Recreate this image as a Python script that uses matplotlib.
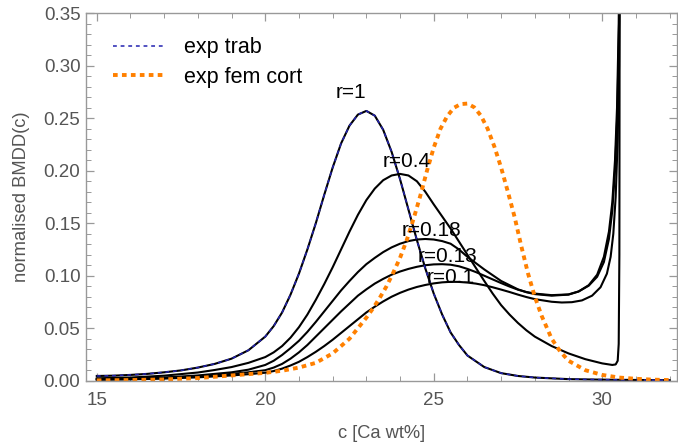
import matplotlib
matplotlib.use("Agg")
from matplotlib import pyplot as plt
from matplotlib.ticker import MultipleLocator

plt.rcParams["font.family"] = ["Liberation Sans", "DejaVu Sans"]

# experimental BMDDs
c_trab = [15, 15.5, 16, 16.5, 17, 17.5, 18, 18.5, 19, 19.5, 20, 20.25, 20.5, 20.75,
          21.0, 21.25, 21.5, 21.75, 22.0, 22.25, 22.5, 22.75, 23.0, 23.25, 23.5, 23.75,
          24.0, 24.25, 24.5, 24.75, 25.0, 25.25, 25.5, 25.75, 26.0, 26.5, 27.0, 27.5,
          28.0, 29.0, 30.0, 31.0, 32.0]
v_trab = [0.0045, 0.0048, 0.0055, 0.0065, 0.008, 0.0098, 0.0125, 0.016, 0.021, 0.029,
          0.042, 0.052, 0.065, 0.082, 0.102, 0.125, 0.150, 0.177, 0.203, 0.226, 0.243,
          0.2535, 0.257, 0.2525, 0.239, 0.218, 0.192, 0.163, 0.134, 0.107, 0.083, 0.063,
          0.046, 0.034, 0.024, 0.013, 0.0072, 0.0045, 0.003, 0.0015, 0.001, 0.0007,
          0.0005]

c_cort = [15, 16, 17, 18, 19, 20, 20.5, 21, 21.5, 22, 22.5, 23.0, 23.2, 23.4, 23.6,
          23.8, 24.0, 24.2, 24.4, 24.6, 24.8, 25.0, 25.2, 25.4, 25.6, 25.8, 26.0, 26.2,
          26.4, 26.6, 26.8, 27.0, 27.2, 27.4, 27.6, 27.8, 28.0, 28.2, 28.5, 28.75, 29.0,
          29.5, 30.0, 30.5, 31.0, 31.5, 32.0]
v_cort = [0.0003, 0.0006, 0.0012, 0.0025, 0.005, 0.0075, 0.0095, 0.0125, 0.017, 0.026,
          0.040, 0.060, 0.069, 0.079, 0.090, 0.103, 0.117, 0.134, 0.154, 0.176, 0.200,
          0.222, 0.240, 0.252, 0.260, 0.2635, 0.264, 0.2605, 0.2525, 0.240, 0.223, 0.203,
          0.180, 0.156, 0.128, 0.102, 0.080, 0.062, 0.040, 0.028, 0.019, 0.010, 0.0055,
          0.003, 0.0018, 0.001, 0.0006]

# model curves for different r (r=1 coincides with exp trab)
c_r04 = [15, 16, 17, 18, 18.5, 19, 19.5, 20, 20.25, 20.5, 20.75, 21, 21.25, 21.5, 21.75,
         22, 22.25, 22.5, 22.75, 23.0, 23.25, 23.5, 23.75, 24.0, 24.25, 24.5, 24.75,
         25.0, 25.25, 25.5, 25.75, 26.0, 26.25, 26.5, 26.75, 27.0, 27.25, 27.5, 27.75,
         28.0, 28.5, 29.0, 29.5, 30.0, 30.3, 30.4, 30.46, 30.49, 30.51, 30.52]
v_r04 = [0.0023, 0.003, 0.0048, 0.0078, 0.0102, 0.013, 0.017, 0.0225, 0.027, 0.033,
         0.041, 0.051, 0.063, 0.077, 0.092, 0.108, 0.125, 0.142, 0.158, 0.172, 0.183,
         0.191, 0.1955, 0.197, 0.1955, 0.190, 0.180, 0.168, 0.1565, 0.145, 0.1325, 0.120,
         0.1075, 0.095, 0.083, 0.072, 0.063, 0.055, 0.048, 0.042, 0.033, 0.026, 0.0205,
         0.0165, 0.015, 0.0155, 0.019, 0.035, 0.12, 0.45]

c_r018 = [15, 16, 17, 18, 18.5, 19, 19.5, 20, 20.25, 20.5, 20.75, 21.0, 21.25, 21.5,
          21.75, 22.0, 22.25, 22.5, 22.75, 23.0, 23.25, 23.5, 23.75, 24.0, 24.25, 24.5,
          24.75, 25.0, 25.25, 25.5, 25.75, 26.0, 26.25, 26.5, 26.75, 27.0, 27.25, 27.5,
          27.75, 28.0, 28.5, 29.0, 29.3, 29.6, 29.85, 30.05, 30.2, 30.3, 30.38, 30.44,
          30.49, 30.52]
v_r018 = [0.0015, 0.002, 0.003, 0.005, 0.0065, 0.008, 0.0105, 0.015, 0.019, 0.0245,
          0.031, 0.038, 0.0465, 0.056, 0.066, 0.076, 0.086, 0.095, 0.1035, 0.111, 0.117,
          0.1225, 0.127, 0.1305, 0.133, 0.1345, 0.135, 0.1345, 0.133, 0.1305, 0.125,
          0.118, 0.112, 0.106, 0.1005, 0.095, 0.091, 0.087, 0.0843, 0.0825, 0.081, 0.082,
          0.085, 0.091, 0.101, 0.118, 0.142, 0.17, 0.21, 0.26, 0.34, 0.45]

c_r013 = [15, 16, 17, 18, 19, 19.5, 20, 20.25, 20.5, 20.75, 21.0, 21.25, 21.5, 21.75,
          22.0, 22.25, 22.5, 22.75, 23.0, 23.25, 23.5, 23.75, 24.0, 24.25, 24.5, 24.75,
          25.0, 25.25, 25.5, 25.75, 26.0, 26.25, 26.5, 26.75, 27.0, 27.25, 27.5, 27.75,
          28.0, 28.5, 29.0, 29.3, 29.6, 29.85, 30.05, 30.2, 30.3, 30.38, 30.45, 30.5,
          30.53]
v_r013 = [0.001, 0.0015, 0.0025, 0.004, 0.0065, 0.008, 0.010, 0.0125, 0.016, 0.021,
          0.027, 0.034, 0.042, 0.050, 0.058, 0.066, 0.0735, 0.081, 0.087, 0.0925, 0.097,
          0.101, 0.104, 0.1065, 0.1085, 0.110, 0.1108, 0.111, 0.1105, 0.109, 0.1065,
          0.1035, 0.100, 0.0965, 0.093, 0.0897, 0.0867, 0.0845, 0.083, 0.0815, 0.0822,
          0.085, 0.0905, 0.099, 0.113, 0.135, 0.162, 0.20, 0.255, 0.34, 0.45]

c_r01 = [15, 16, 17, 18, 19, 19.5, 20, 20.25, 20.5, 20.75, 21.0, 21.25, 21.5, 21.75,
         22.0, 22.25, 22.5, 22.75, 23.0, 23.25, 23.5, 23.75, 24.0, 24.25, 24.5, 24.75,
         25.0, 25.25, 25.5, 25.75, 26.0, 26.25, 26.5, 26.75, 27.0, 27.25, 27.5, 27.75,
         28.0, 28.5, 28.8, 29.1, 29.4, 29.7, 29.95, 30.14, 30.25, 30.33, 30.4, 30.46,
         30.5, 30.53]
v_r01 = [0.001, 0.0013, 0.002, 0.0032, 0.005, 0.0062, 0.0076, 0.0092, 0.0115, 0.0145,
         0.018, 0.0225, 0.0275, 0.033, 0.039, 0.0455, 0.052, 0.0585, 0.065, 0.0705,
         0.0755, 0.080, 0.0837, 0.0868, 0.0893, 0.0912, 0.0927, 0.0937, 0.0942, 0.0941,
         0.0935, 0.0925, 0.091, 0.089, 0.0868, 0.0845, 0.082, 0.0797, 0.0777, 0.0752,
         0.0745, 0.0748, 0.0765, 0.081, 0.089, 0.102, 0.118, 0.14, 0.175, 0.23, 0.30,
         0.45]

r_labels = ["r=1", "r=0.4", "r=0.18", "r=0.13", "r=0.1"]

fig = plt.figure(figsize=(6.78, 4.48), dpi=100)
ax = fig.add_axes([86 / 678, 67.3 / 448, 591 / 678, 367.4 / 448])

for c, v in [(c_trab, v_trab), (c_r04, v_r04), (c_r018, v_r018),
             (c_r013, v_r013), (c_r01, v_r01)]:
    ax.plot(c, v, color="black", lw=1.5, solid_joinstyle="round")

ax.plot(c_trab, v_trab, color="#2222b0", lw=1.1, dashes=(2.5, 2.5), label="exp trab")
ax.plot(c_cort, v_cort, color="#ff8000", lw=2.8, dashes=(1.2, 1.1), label="exp fem cort")

# curve labels
label_pos = [(22.55, 0.275), (24.2, 0.209), (24.92, 0.1435), (25.4, 0.1185), (25.5, 0.098)]
for txt, (x, y) in zip(r_labels, label_pos):
    ax.text(x, y, txt, fontsize=15, ha="center", va="center", color="black")

ax.set_xlim(14.68, 32.22)
ax.set_ylim(0, 0.35)
ax.xaxis.set_major_locator(MultipleLocator(5))
ax.xaxis.set_minor_locator(MultipleLocator(1))
ax.yaxis.set_major_locator(MultipleLocator(0.05))
ax.yaxis.set_minor_locator(MultipleLocator(0.01))
ax.yaxis.set_major_formatter(lambda y, pos: f"{y:.2f}")

frame_col = "#999999"
for s in ax.spines.values():
    s.set_color(frame_col)
    s.set_linewidth(1.0)
ax.tick_params(which="both", direction="in", top=True, right=True,
               color=frame_col, labelcolor="#555555", labelsize=13.5)
ax.tick_params(which="major", length=6, width=0.9)
ax.tick_params(which="minor", length=3.5, width=0.7)
ax.tick_params(axis="x", which="major", pad=8)
ax.tick_params(axis="y", which="major", pad=4)

ax.set_xlabel("c [Ca wt%]", fontsize=13.2, color="#555555", labelpad=12)
ax.set_ylabel("normalised BMDD(c)", fontsize=13.2, color="#555555", labelpad=10)

ax.legend(loc="upper left", bbox_to_anchor=(0.046, 0.935), frameon=False,
          fontsize=15.5, handlelength=2.4, handletextpad=0.9, labelspacing=0.4,
          borderpad=0, borderaxespad=0)

fig.savefig("out.png", dpi=100)
